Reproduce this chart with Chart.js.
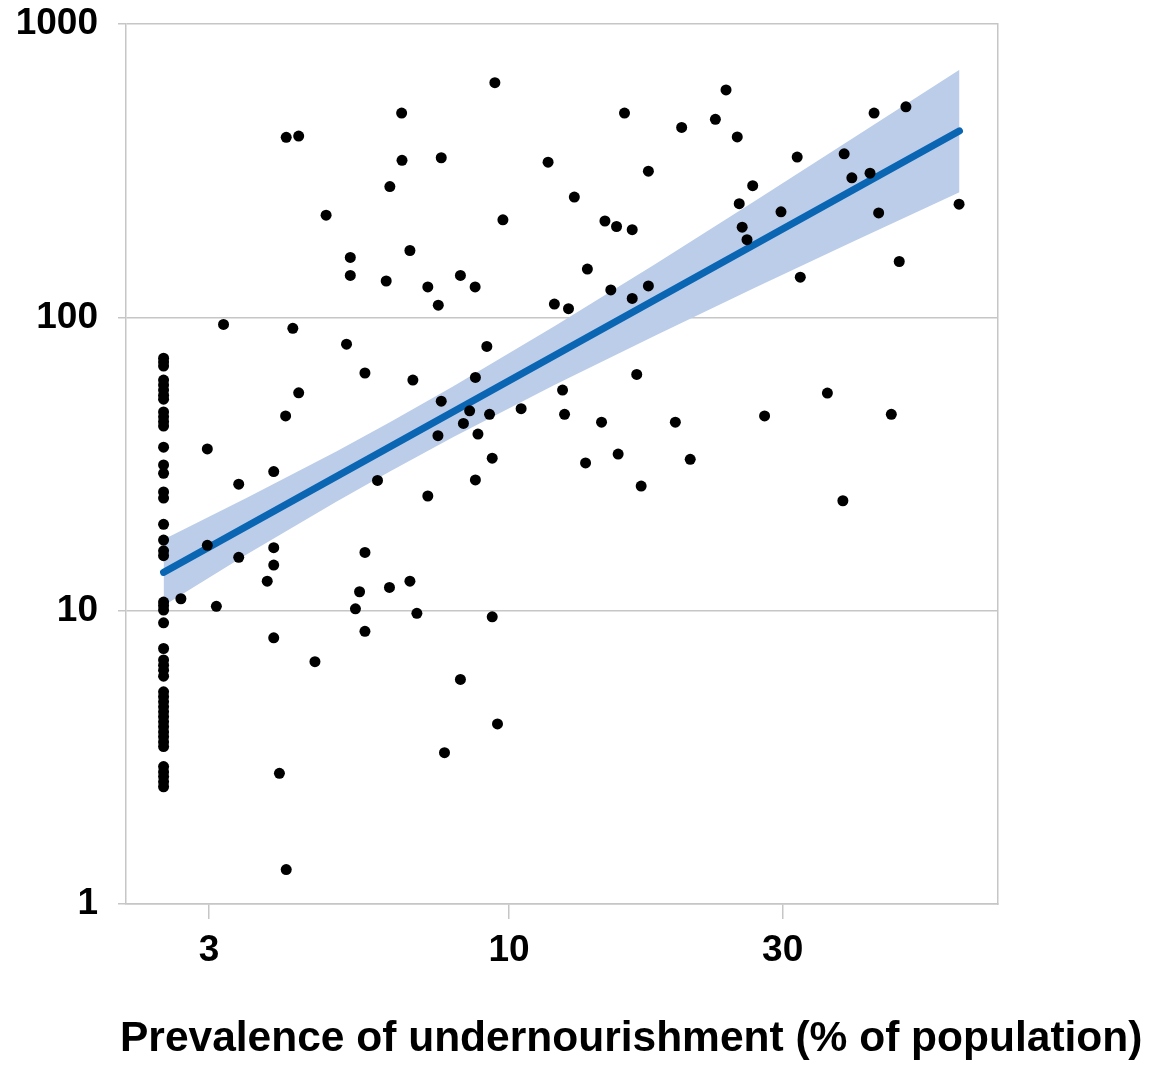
<!DOCTYPE html>
<html>
<head>
<meta charset="utf-8">
<title>Prevalence of undernourishment</title>
<script src="https://cdn.jsdelivr.net/npm/chart.js@4.4.0/dist/chart.umd.min.js"></script>
<style>
  body { margin: 0; background: #fff; }
  .wrap { position: relative; width: 1175px; height: 1065px; }
  .x-title {
    position: absolute; left: 120px; top: 1016px;
    font: bold 42.5px/42px "Liberation Sans", Arial, sans-serif;
    white-space: nowrap; color: #000;
  }
</style>
</head>
<body>
<div class="wrap">
  <canvas class="chart-1" width="1175" height="1065"></canvas>
  <div class="x-title">Prevalence of undernourishment (% of population)</div>
</div>
<script>
// countries reported as "<2.5%" all sit on the left edge
const lowEdge = 2.5;
const lowEdgeValues = [72.6, 70.4, 68.2, 61.1, 58.8, 56.5, 54.3, 52.6, 47.6, 45.8, 44.1, 42.6,
  36.1, 31.4, 29.4, 25.4, 24.2, 19.7, 17.4, 16.0, 15.4, 10.7, 10.4, 10.05, 9.09, 7.43, 6.79,
  6.52, 6.27, 5.98, 5.29, 5.09, 4.89, 4.70, 4.52, 4.35, 4.18, 4.02, 3.86, 3.72, 3.57, 3.44,
  2.94, 2.82, 2.72, 2.61, 2.51];

// everyone else
const prevalence = [4.09, 4.30, 6.5, 6.51, 6.2, 4.80, 5.29, 5.29, 6.11, 3.18, 4.20, 5.21, 6.72,
  9.45, 15.9, 7.62, 11.7, 17.5, 13.0, 9.76, 14.7, 15.4, 16.4, 7.22, 8.23, 8.73, 7.53, 13.7, 15.05, 16.4, 17.5, 12.0, 12.7, 9.15,
  23.9, 20.0, 22.9, 25.0, 26.6, 25.2, 25.5, 26.0, 29.8, 31.8, 38.4, 39.6, 42.6, 43.3, 49.2, 44.1, 60.9, 47.9, 32.2,
  35.9, 46.4, 38.2, 27.9, 19.5, 20.7, 17.0, 16.7, 15.5, 14.5, 13.6, 12.4, 12.5, 10.5, 9.35, 8.74, 7.22, 6.80, 8.74, 7.62, 8.54, 8.33, 9.25, 7.52, 8.83,
  5.61, 4.30, 4.08, 3.89, 3.38, 2.98, 5.90, 2.98, 3.38, 3.89, 3.89, 3.79, 5.61, 5.49, 6.19, 5.40, 2.68, 3.09, 6.72, 6.91, 9.35,
  5.61, 3.89, 4.59, 3.98, 4.09, 8.23, 9.55, 7.72];
const values = [411, 415, 497, 343, 279, 223, 160, 139, 133, 94.6, 91.7, 81, 169,
  631, 497, 350, 338, 315, 257, 215, 213, 204, 199, 127, 139, 127, 110, 146, 124, 116, 128, 111, 107, 79.6,
  596, 444, 473, 412, 281, 244, 203, 184, 229, 352, 361, 299, 310, 497, 522, 227, 243, 155, 137,
  55.2, 46.7, 23.7, 46.1, 43.9, 32.8, 26.6, 63.9, 34.2, 43.9, 31.9, 56.5, 46.7, 48.8, 33.1, 27.9, 24.6, 61.1, 62.4, 51.8, 48.0, 43.5, 46.7, 39.5, 40.0,
  64.6, 55.3, 46.1, 29.8, 27.0, 35.6, 27.8, 16.7, 15.2, 16.4, 14.3, 12.6, 15.8, 11.6, 12.0, 10.15, 10.98, 10.35, 12.6, 9.79, 9.53,
  8.50, 8.08, 6.70, 2.79, 1.31, 5.83, 4.11, 3.28];

// fitted line (log-log) and its confidence band
const fitX = [2.5, 61];
const fitY = [13.5, 432];
const bandX = [2.5, 3.5, 5, 6.2, 8, 12, 18, 27, 40, 61];
const bandUpper = [17.5, 24.3, 34.9, 43.9, 58.2, 93.3, 152, 251, 411, 698];
const bandLower = [10.4, 15.6, 23.5, 29.8, 39.1, 58.8, 86.7, 127, 182, 267];

const xTicks = [3, 10, 30];
const yTicks = [1, 10, 100, 1000];

const gridGrey = '#c6c6c6';
const chart_1 = document.querySelector('.chart-1');

Chart.defaults.font.family = '"Liberation Sans", Arial, sans-serif';
Chart.defaults.color = '#000';

let points = [];
for (let i = 0; i < lowEdgeValues.length; i++) {
  points.push({ x: lowEdge, y: lowEdgeValues[i] });
}
for (let i = 0; i < prevalence.length; i++) {
  points.push({ x: prevalence[i], y: values[i] });
}

const toXY = (xs, ys) => xs.map((x, i) => ({ x: x, y: ys[i] }));

new Chart(chart_1, {
  type: 'scatter',
  data: {
    datasets: [
      {
        data: points,
        pointRadius: 5.5,
        pointBackgroundColor: '#000',
        pointBorderWidth: 0
      },
      {
        data: toXY(fitX, fitY),
        showLine: true,
        borderColor: '#0a66b3',
        borderWidth: 7,
        borderCapStyle: 'round',
        pointRadius: 0
      },
      {
        data: toXY(bandX, bandUpper),
        showLine: true,
        borderWidth: 0,
        pointRadius: 0,
        backgroundColor: '#bccde9',
        fill: '+1'
      },
      {
        data: toXY(bandX, bandLower),
        showLine: true,
        borderWidth: 0,
        pointRadius: 0
      }
    ]
  },
  options: {
    responsive: false,
    animation: false,
    devicePixelRatio: 1,
    layout: { autoPadding: false, padding: { top: 24, right: 177, bottom: 0, left: 0 } },
    plugins: { legend: { display: false }, tooltip: { enabled: false } },
    scales: {
      x: {
        type: 'logarithmic',
        min: 2.15,
        max: 71.2,
        afterBuildTicks: s => { s.ticks = xTicks.map(v => ({ value: v })); },
        afterFit: s => { s.height = 161; },
        grid: { drawOnChartArea: false, tickLength: 15, color: gridGrey, lineWidth: 1.5 },
        border: { color: gridGrey, width: 1.5 },
        ticks: {
          autoSkip: false, maxRotation: 0, padding: 10,
          font: { size: 37, weight: 'bold' },
          callback: v => String(v)
        }
      },
      y: {
        type: 'logarithmic',
        min: 1,
        max: 1000,
        afterBuildTicks: s => { s.ticks = yTicks.map(v => ({ value: v })); },
        // fixed width, and don't let the label padding push the plot down
        afterFit: s => { s.width = 126; s.paddingTop = 0; s.paddingBottom = 0; },
        grid: { tickLength: 8, color: gridGrey, lineWidth: 1.5 },
        border: { color: gridGrey, width: 1.5 },
        ticks: {
          padding: 20,
          font: { size: 37, weight: 'bold' },
          callback: v => String(v)
        }
      },
      // right edge of the plot frame
      yr: {
        type: 'linear',
        position: 'right',
        afterFit: s => { s.width = 0; },
        ticks: { display: false },
        grid: { drawOnChartArea: false, drawTicks: false },
        border: { color: gridGrey, width: 1.5 }
      }
    }
  }
});
</script>
</body>
</html>
